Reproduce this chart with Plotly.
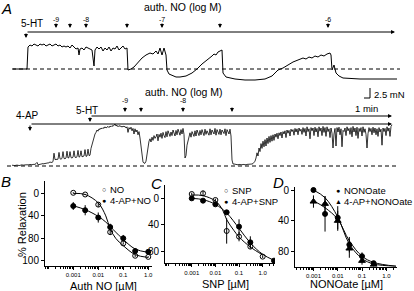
import numpy as np
import plotly.graph_objects as go

W, H = 414, 291
FONT = "Liberation Sans, Arial, Helvetica, sans-serif"

# ---------------- Panel A data (time in s, tension in mN) ----------------
top_t = [0, 140, 150, 170, 190, 210, 230, 250, 270, 290,
         310, 330, 350, 370, 390, 410, 430, 450, 470, 490,
         510, 530, 550, 570, 590, 610, 630, 650, 660, 670,
         690, 710, 730, 750, 770, 790, 810, 820, 840, 860,
         880, 900, 920, 940, 960, 980, 1000, 1020, 1040, 1060,
         1080, 1100, 1120, 1140, 1150, 1180, 1210, 1250, 1290, 1330,
         1370, 1400, 1430, 1450, 1470, 1490, 1510, 1530, 1540, 1560,
         1590, 1630, 1670, 1730, 1790, 1840, 1890, 1930, 1960, 1990,
         2010, 2030, 2050, 2070, 2090, 2100, 2130, 2220, 2320, 2420,
         2520, 2590, 2650, 2700, 2750, 2800, 2850, 2900, 2930, 2960,
         2990, 3020, 3050, 3080, 3110, 3140, 3170, 3180, 3190, 3210,
         3230, 3260, 3300, 3470, 3670, 3840]
top_f = [0, 0, 5.5, 6, 5.75, 6.25, 6, 5.75, 6.25, 6,
         6.25, 5.75, 6, 6.25, 5.75, 6, 6.25, 5.75, 6, 5.5,
         5.75, 5.5, 5.75, 5.25, 6, 5.5, 5, 5.25, 3.5, 5,
         5.25, 4.75, 5.5, 5.25, 5, 4.75, 0.75, 4.75, 5.5, 5,
         5.5, 4.5, 5.25, 4.75, 5.5, 4.5, 5.25, 5, 5.75, 4.75,
         5.25, 5.75, 5, 5.25, -0.25, 0, 0.5, 1.75, 2.75, 3.5,
         4, 3.75, 4.5, 3.75, 5.25, 3.5, 5.25, 3.5, -0.25, -1.25,
         -1.5, -2, -2, -1.75, -1, 0, 1.25, 2, 2.75, 3.25,
         3.75, 3.5, 4.25, 4.5, 4.75, -1, -2, -2.5, -2.75, -2.75,
         -2.5, -1.75, -0.25, 0.25, 1, 1.75, 2.25, 2.75, 2.5, 3,
         2.75, 3.25, 3, 3.5, 3.25, 3.75, 4, 3.5, -0.25, 1,
         -1, -1.75, -2.25, -2.5, -2.5, -2.5]

# bottom recording, sampled every 10 s starting at -10 s
bot_t0 = -10
bot_dt = 10
bot_f = [0.2, 0.1, 0.2, 0.1, 0.2, 0.3, 0.2, 0.1, 0.2, 0.2,
         0.3, 0.2, 0.3, 0.2, 0.3, 0.3, 0.2, 0.3, 0.4, 0.3,
         0.3, 0.4, 0.3, 0.4, 0.6, 0.9, 0.3, 0.4, 0.5, 0.4,
         0.5, 0.6, 0.5, 0.7, 0.6, 0.8, 0.7, 0.9, 1.0, 0.9,
         0.9, 1.1, 3.2, 1.6, 1.7, 1.8, 1.7, 3.4, 1.8, 1.7,
         1.9, 3.6, 1.9, 1.8, 2.0, 3.7, 2.0, 2.1, 3.6, 2.1,
         2.0, 2.2, 3.8, 2.2, 2.1, 2.3, 3.9, 2.2, 2.4, 3.8,
         2.3, 2.4, 2.5, 4.1, 2.4, 2.5, 4.2, 2.6, 2.7, 4.4,
         5.3, 6.5, 7.0, 8.0, 8.4, 9.0, 8.7, 9.3, 9.1, 9.5,
         9.3, 9.6, 9.4, 9.8, 9.5, 9.7, 9.9, 9.6, 10.0, 9.8,
         10.1, 9.9, 10.3, 10.5, 10.0, 10.2, 9.8, 10.1, 9.9, 10.0,
         9.7, 10.0, 9.8, 9.9, 9.5, 9.8, 8.4, 9.6, 9.2, 9.7,
         8.8, 9.4, 8.0, 9.3, 8.5, 9.0, 7.8, 8.6, 7.0, 5.0,
         2.8, 1.0, 0.7, 0.7, 1.2, 2.8, 5.2, 6.2, 6.8, 6.0,
         7.2, 6.4, 7.6, 6.9, 7.3, 8.0, 6.3, 7.9, 7.2, 8.2,
         6.9, 8.4, 7.6, 7.1, 8.6, 7.3, 8.8, 8.1, 7.4, 8.5,
         7.6, 9.0, 8.2, 7.5, 8.9, 7.8, 9.2, 8.4, 7.7, 9.1,
         8.0, 9.4, 7.9,
         2.0, 2.6, 5.2, 6.4, 7.6, 8.3, 7.2, 8.6, 8.0, 7.4,
         8.8, 7.5, 9.0, 8.3, 7.6, 8.9, 7.8, 9.1, 8.5, 7.6,
         9.2, 7.9, 8.8, 8.2, 7.7, 9.3, 7.8, 9.0, 8.4, 8.0,
         9.4, 7.7, 9.1, 8.3, 7.9, 9.2, 7.8, 9.0, 8.5, 8.1,
         9.3, 7.6, 9.1, 8.4, 8.0, 9.2, 7.5,
         1.5, 0.5, 0.5, 0.4, 0.4, 0.4, 0.3, 0.4, 0.3, 0.4,
         0.3, 0.4, 0.3, 0.4, 0.3, 0.4, 0.4, 0.5, 0.4, 0.5,
         0.5, 0.6, 0.8,
         1.2, 2.0, 3.3, 2.5, 4.5, 3.6, 5.6, 4.4, 6.2, 4.8,
         6.6, 5.0, 7.0, 5.6, 7.4, 5.9, 7.6, 6.2, 7.8, 6.4,
         8.0, 7.2, 8.2, 6.8, 8.3, 7.6, 8.5, 7.0, 8.6, 8.0,
         8.8, 7.1, 9.0, 8.2, 8.9, 7.5, 9.2, 8.6, 9.1, 7.7,
         9.4, 8.5, 9.3, 7.8, 9.5, 8.7, 9.2, 7.9, 9.6, 8.4,
         9.4, 7.5, 9.8, 8.6, 9.3, 6.8, 9.6, 8.8, 9.5, 7.6,
         9.7, 8.5, 9.4, 7.3, 9.8, 8.7, 9.5, 7.6, 9.9, 8.4,
         9.6, 7.4, 9.8, 8.6, 9.3, 7.1, 9.5, 8.2, 4.5, 8.0,
         9.4, 5.0, 9.6, 8.5, 9.7, 7.8, 9.3, 4.8, 8.9, 8.6,
         9.5, 7.6, 9.8, 8.8, 9.4, 7.9, 9.6, 7.3, 9.9, 8.5,
         9.5, 7.6, 9.7, 6.9, 9.4, 8.6, 9.6, 7.5, 9.8, 8.4,
         9.3, 7.9, 4.5, 8.1, 9.6, 8.6, 9.4, 7.8, 9.7, 8.3,
         9.5, 7.8, 9.3, 7.4, 9.6, 8.5, 9.2, 5.2, 9.5, 8.6,
         9.4, 7.6, 9.8, 8.7, 9.5, 7.4, 9.9, 10.3]

top_add_t = [430, 570, 730, 1140, 1490, 2070, 3150]
top_add_lbl = ["-9", "", "-8", "", "-7", "", "-6"]
bot_add_t = [1120, 1280, 1700, 2190]
bot_add_lbl = ["-9", "", "-8", ""]
top_5ht_t, top_end_t = 130, 3820
bot_4ap_t, bot_5ht_t, bot_end_t = 170, 770, 3790
scale_t, scale_f = 60, 2.5

# ---------------- Panel B ----------------
b_conc = [0.001, 0.003, 0.01, 0.03, 0.1, 0.3, 1.0]
b_no = [-1, 2, 20, 69, 89, 111, 113]
b_no_err = [1, 1, 4, 5, 2, 2, 1]
b_ap = [22.5, 30, 43, 60, 80, 102.5, 104]
b_ap_err = [7, 9, 9, 6, 6, 4, 2]
b_fit_x = [0.001, 0.003, 0.01, 0.02, 0.03, 0.05, 0.1, 0.3, 1.0]
b_fit_no = [0, 2, 17, 40, 63, 80, 93, 109, 114]
b_fit_ap = [22, 29, 41, 51, 59, 69, 82, 99, 105]

# ---------------- Panel C ----------------
c_conc_snp = [0.001, 0.003, 0.01, 0.03, 0.1, 0.3, 1.0]
c_snp = [-6.5, -7.5, 2.5, 49, 57.5, 72.5, 87.5]
c_snp_err = [2, 4, 2, 19, 7, 3, 2]
c_conc_ap = [0.001, 0.003, 0.01, 0.03, 0.1, 0.3, 3.0]
c_ap = [0, 3.5, 9, 21, 42.5, 66, 93.5]
c_ap_err = [1, 2, 2, 3, 11, 9, 1]
c_fit_snp_x = [0.001, 0.003, 0.01, 0.02, 0.03, 0.06, 0.1, 0.3, 1.0]
c_fit_snp = [-5, -4, 4, 17, 32, 48, 58, 73, 85]
c_fit_ap_x = [0.001, 0.003, 0.01, 0.03, 0.1, 0.3, 1.0, 3.0]
c_fit_ap = [0, 2, 9, 22, 45, 67, 84, 93]

# ---------------- Panel D ----------------
d_conc = [0.001, 0.003, 0.01, 0.03, 0.1, 0.3]
d_no = [0, 31, 36, 71, 86, 95]
d_no_err = [3, 23, 15, 10, 5, 2]
d_ap = [15, 18, 40, 76, 92, 97]
d_ap_err = [8, 10, 13, 12, 5, 2]
d_fit_x = [0.001, 0.003, 0.01, 0.03, 0.1, 0.3, 2.5]
d_fit_no = [0, 10, 35, 70, 89, 96, 99]
d_fit_ap = [14, 23, 38, 66, 86, 94, 99]

conc_ticks = [0.001, 0.01, 0.1, 1.0]
conc_ticktext = ["0.001", "0.01", "0.1", "1.0"]


def px(x):
    return x / W


def py(y):
    return 1 - y / H


fig = go.Figure()
line = dict(color="black", width=1)

# --- Panel A traces
fig.add_trace(go.Scatter(x=top_t, y=top_f, mode="lines", line=line,
                         xaxis="x", yaxis="y", showlegend=False))
bot_t = bot_t0 + bot_dt * np.arange(len(bot_f))
fig.add_trace(go.Scatter(x=bot_t, y=bot_f, mode="lines", line=dict(color="black", width=0.8),
                         xaxis="x2", yaxis="y2", showlegend=False))


def curve(x, y, ax):
    return go.Scatter(x=x, y=y, mode="lines", line=dict(color="black", width=1, shape="spline"),
                      xaxis="x" + ax, yaxis="y" + ax, showlegend=False)


def pts(x, y, err, ax, symbol, size=5):
    return go.Scatter(x=x, y=y, mode="markers",
                      marker=dict(symbol=symbol, size=size, color="black",
                                  line=dict(color="black", width=1)),
                      error_y=dict(type="data", array=err, color="black", thickness=1, width=0),
                      xaxis="x" + ax, yaxis="y" + ax, showlegend=False)


# B
fig.add_trace(curve(b_fit_x, b_fit_no, "3"))
fig.add_trace(curve(b_fit_x, b_fit_ap, "3"))
fig.add_trace(pts(b_conc, b_ap, b_ap_err, "3", "circle"))
fig.add_trace(pts(b_conc, b_no, b_no_err, "3", "circle-open"))
# C
fig.add_trace(curve(c_fit_snp_x, c_fit_snp, "4"))
fig.add_trace(curve(c_fit_ap_x, c_fit_ap, "4"))
fig.add_trace(pts(c_conc_ap, c_ap, c_ap_err, "4", "circle"))
fig.add_trace(pts(c_conc_snp, c_snp, c_snp_err, "4", "circle-open"))
# D
fig.add_trace(curve(d_fit_x, d_fit_no, "5"))
fig.add_trace(curve(d_fit_x, d_fit_ap, "5"))
fig.add_trace(pts(d_conc, d_ap, d_ap_err, "5", "triangle-up", 6))
fig.add_trace(pts(d_conc, d_no, d_no_err, "5", "circle"))

hidden = dict(visible=False, showgrid=False, zeroline=False)

axstyle = dict(showline=True, linecolor="black", linewidth=1, ticks="outside",
               ticklen=3, tickwidth=1, tickcolor="black", showgrid=False,
               zeroline=False)


def xlog(domain, rng, anchor):
    return dict(type="log", domain=domain, range=rng, anchor=anchor,
                tickmode="array", tickvals=conc_ticks, ticktext=conc_ticktext,
                tickfont=dict(size=6, family=FONT, color="black"),
                minor=dict(ticks="outside", ticklen=2, tickcolor="black", dtick="D1",
                           showgrid=False),
                **axstyle)


def ylin(domain, rng, anchor, vals, text):
    return dict(domain=domain, range=rng, anchor=anchor, tickmode="array",
                tickvals=vals, ticktext=text,
                tickfont=dict(size=10, family=FONT, color="black"), **axstyle)


fig.update_layout(
    width=W, height=H, margin=dict(l=0, r=0, t=0, b=0, autoexpand=False),
    paper_bgcolor="white", plot_bgcolor="white",
    font=dict(family=FONT, color="black"),
    xaxis=dict(domain=[0, 1], range=[-130, 4010], anchor="y", **hidden),
    yaxis=dict(domain=[py(100), 1], range=[-7.75, 17.25], anchor="x", **hidden),
    xaxis2=dict(domain=[0, 1], range=[-130, 4010], anchor="y2", **hidden),
    yaxis2=dict(domain=[py(175), py(100)], range=[-2.25, 16.5], anchor="x2", **hidden),
    xaxis3=xlog([px(45), px(152)], [-4.13, 0.15], "y3"),
    yaxis3=ylin([py(265.7), py(181)], [128.7, -22], "x3", [0, 40, 80, 120], ["0", "40", "80", "100"]),
    xaxis4=xlog([px(165), px(275)], [-4.13, 0.52], "y4"),
    yaxis4=ylin([py(263.3), py(185)], [97.5, -20], "x4", [0, 40, 80], ["0", "40", "80"]),
    xaxis5=xlog([px(295), px(397)], [-3.76, 0.44], "y5"),
    yaxis5=ylin([py(266.7), py(186.7)], [99.6, -4.3], "x5", [0, 40, 80], ["0", "40", "80"]),
)

shapes = []
dash = dict(color="black", width=1, dash="4px,3px")
shapes.append(dict(type="line", xref="x", yref="y", x0=-10, x1=3870, y0=0, y1=0, line=dash))
shapes.append(dict(type="line", xref="x2", yref="y2", x0=-60, x1=3840, y0=0, y1=0, line=dash))
# scale bar
sb_x1 = 3570
sb_y0 = -7.25
shapes.append(dict(type="line", xref="x", yref="y", x0=sb_x1 - scale_t, x1=sb_x1,
                   y0=sb_y0, y1=sb_y0, line=dict(color="black", width=1)))
shapes.append(dict(type="line", xref="x", yref="y", x0=sb_x1, x1=sb_x1,
                   y0=sb_y0, y1=sb_y0 + scale_f, line=dict(color="black", width=1)))
fig.update_layout(shapes=shapes)

ann = []


def text(x, y, s, size, xref="paper", yref="paper", **kw):
    d = dict(x=x, y=y, xref=xref, yref=yref, text=s, showarrow=False,
             xanchor="center", yanchor="middle",
             font=dict(size=size, family=FONT, color="black"))
    d.update(kw)
    ann.append(d)


def down_arrow(x, y, xref, yref, length=6):
    ann.append(dict(x=x, y=y, xref=xref, yref=yref, text="", showarrow=True,
                    ax=0, ay=-length, arrowhead=2, arrowsize=0.8, arrowwidth=1,
                    arrowcolor="black"))


def h_arrow(x0, x1, y, xref, yref):
    ann.append(dict(x=x1, y=y, ax=x0, ay=y, xref=xref, yref=yref, axref=xref, ayref=yref,
                    text="", showarrow=True, arrowhead=2, arrowsize=0.8, arrowwidth=1,
                    arrowcolor="black"))


# Panel A top
text(px(7), py(8), "<i>A</i>", 15)
text(1700, 15.4, "auth. NO (log M)", 10.5, "x", "y")
text(190, 11.4, "5-HT", 10, "x", "y")
for t, lbl in zip(top_add_t, top_add_lbl):
    down_arrow(t, 10.25, "x", "y", 6)
    if lbl:
        text(t, 12.5, lbl, 7, "x", "y")
h_arrow(top_5ht_t, top_end_t, 9.25, "x", "y")
down_arrow(top_5ht_t, 7.75, "x", "y", 6)
text(1710, -5.75, "auth. NO (log M)", 10.5, "x", "y")
text(3590, -6.3, "2.5 mN", 9.5, "x", "y", xanchor="left")
text(3530, 14.5, "1 min", 9.5, "x2", "y2")

# Panel A bottom
text(140, 12.75, "4-AP", 10, "x2", "y2")
text(740, 14, "5-HT", 10, "x2", "y2")
for t, lbl in zip(bot_add_t, bot_add_lbl):
    down_arrow(t, 13.5, "x2", "y2", 6)
    if lbl:
        text(t, 16.3, lbl, 7, "x2", "y2")
h_arrow(bot_5ht_t, bot_end_t, 12.5, "x2", "y2")
down_arrow(bot_5ht_t, 11, "x2", "y2", 6)
h_arrow(bot_4ap_t, bot_end_t, 10.5, "x2", "y2")
down_arrow(bot_4ap_t, 8.75, "x2", "y2", 7)

# Panel letters
text(px(6), py(181), "<i>B</i>", 15)
text(px(156), py(183), "<i>C</i>", 15)
text(px(278), py(182), "<i>D</i>", 15)

# Axis titles
text(px(22), py(225), "% Relaxation", 11, textangle=-90)
text(px(103), py(285.5), "Auth NO [µM]", 11)
text(px(225), py(284), "SNP [µM]", 11)
text(px(346), py(284), "NONOate [µM]", 11)

# Legends: glyph + label
legend_items = [
    (104, 189, "○", "NO"), (104, 200, "●", "4-AP+NO"),
    (226, 190, "○", "SNP"), (226, 201, "●", "4-AP+SNP"),
    (338, 190.5, "●", "NONOate"), (338, 201, "▲", "4-AP+NONOate"),
]
for gx, gy, glyph, label in legend_items:
    text(px(gx), py(gy), glyph, 7)
    text(px(gx + 3.5), py(gy), label, 9.5, xanchor="left")

fig.update_layout(annotations=ann)

fig.write_html("out.html", config={"displayModeBar": False},
               post_script="document.body.style.margin='0';document.body.style.overflow='hidden';")
